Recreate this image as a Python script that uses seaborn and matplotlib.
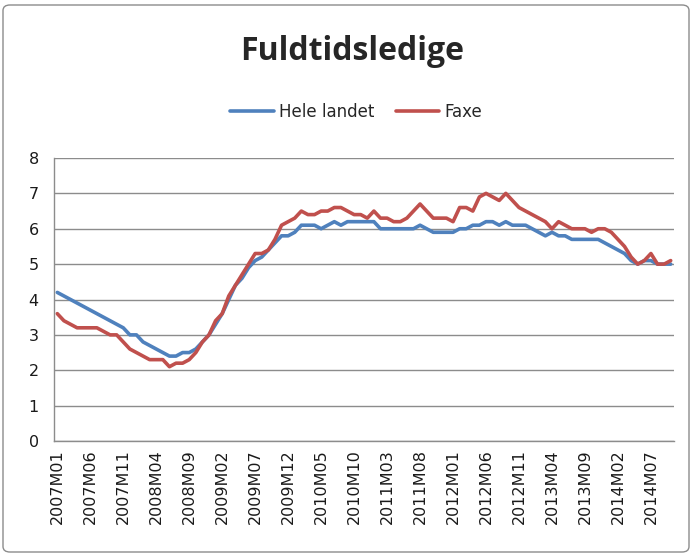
import numpy as np
import pandas as pd
import matplotlib
matplotlib.use("Agg")
import matplotlib.pyplot as plt
import seaborn as sns
from matplotlib.patches import FancyBboxPatch
from matplotlib.lines import Line2D

# ---- data ----
years = list(range(2007, 2015))
months = [f"{y}M{m:02d}" for y in years for m in range(1, 13)][:94]  # 2007M01 .. 2014M10

hele_landet = [4.2, 4.1, 4.0, 3.9, 3.8, 3.7, 3.6, 3.5, 3.4, 3.3,
               3.2, 3.0, 3.0, 2.8, 2.7, 2.6, 2.5, 2.4, 2.4, 2.5,
               2.5, 2.6, 2.8, 3.0, 3.3, 3.6, 4.0, 4.4, 4.6, 4.9,
               5.1, 5.2, 5.4, 5.6, 5.8, 5.8, 5.9, 6.1, 6.1, 6.1,
               6.0, 6.1, 6.2, 6.1, 6.2, 6.2, 6.2, 6.2, 6.2, 6.0,
               6.0, 6.0, 6.0, 6.0, 6.0, 6.1, 6.0, 5.9, 5.9, 5.9,
               5.9, 6.0, 6.0, 6.1, 6.1, 6.2, 6.2, 6.1, 6.2, 6.1,
               6.1, 6.1, 6.0, 5.9, 5.8, 5.9, 5.8, 5.8, 5.7, 5.7,
               5.7, 5.7, 5.7, 5.6, 5.5, 5.4, 5.3, 5.1, 5.0, 5.1,
               5.1, 5.0, 5.0, 5.0]

faxe = [3.6, 3.4, 3.3, 3.2, 3.2, 3.2, 3.2, 3.1, 3.0, 3.0,
        2.8, 2.6, 2.5, 2.4, 2.3, 2.3, 2.3, 2.1, 2.2, 2.2,
        2.3, 2.5, 2.8, 3.0, 3.4, 3.6, 4.1, 4.4, 4.7, 5.0,
        5.3, 5.3, 5.4, 5.7, 6.1, 6.2, 6.3, 6.5, 6.4, 6.4,
        6.5, 6.5, 6.6, 6.6, 6.5, 6.4, 6.4, 6.3, 6.5, 6.3,
        6.3, 6.2, 6.2, 6.3, 6.5, 6.7, 6.5, 6.3, 6.3, 6.3,
        6.2, 6.6, 6.6, 6.5, 6.9, 7.0, 6.9, 6.8, 7.0, 6.8,
        6.6, 6.5, 6.4, 6.3, 6.2, 6.0, 6.2, 6.1, 6.0, 6.0,
        6.0, 5.9, 6.0, 6.0, 5.9, 5.7, 5.5, 5.2, 5.0, 5.1,
        5.3, 5.0, 5.0, 5.1]

series_names = ["Hele landet", "Faxe"]
colors = ["#4F81BD", "#C0504D"]
title = "Fuldtidsledige"
y_ticks = list(range(0, 9))

# ---- long table ----
df = pd.DataFrame({
    "idx": list(range(len(months))) * 2,
    "month": months * 2,
    "value": hele_landet + faxe,
    "series": [series_names[0]] * len(months) + [series_names[1]] * len(months),
})

sns.set_style("white")
plt.rcParams["font.family"] = ["DejaVu Sans"]

fig = plt.figure(figsize=(6.94, 5.55), dpi=100)
ax = fig.add_axes([54 / 694, 1 - 441 / 555, (674 - 54) / 694, (441 - 158) / 555])

sns.lineplot(data=df, x="idx", y="value", hue="series", hue_order=series_names,
             palette=colors, linewidth=2.6, ax=ax, legend=False)

grid_c = "#8C8C8C"
txt_c = "#1A1A1A"
ax.set_xlim(-0.5, len(months) - 0.5)
ax.set_ylim(0, 8)
ax.set_yticks(y_ticks)
ax.set_yticklabels([str(t) for t in y_ticks], fontsize=11.5, color=txt_c)
ax.yaxis.grid(True, color=grid_c, linewidth=1.0)
ax.set_axisbelow(True)

label_pos = list(range(0, len(months), 5))
ax.set_xticks(label_pos)
ax.set_xticklabels([months[i] for i in label_pos], rotation=90, fontsize=11.5, color=txt_c)
ax.set_xticks(np.arange(-0.5, len(months), 1.0), minor=True)
ax.tick_params(axis="x", which="major", length=0, pad=6)
ax.tick_params(axis="x", which="minor", length=4, color=grid_c, width=1.0, direction="out")
ax.tick_params(axis="y", which="major", length=4, color=grid_c, width=1.0, direction="out", pad=7)
ax.set_xlabel("")
ax.set_ylabel("")

for s in ["top", "right"]:
    ax.spines[s].set_visible(False)
for s in ["left", "bottom"]:
    ax.spines[s].set_color(grid_c)
    ax.spines[s].set_linewidth(1.0)

# title
fig.text(352 / 694, 1 - 52 / 555, title, ha="center", va="center",
         fontsize=23, fontweight="bold", family=["Open Sans", "DejaVu Sans"])

# legend
handles = [Line2D([0], [0], color=c, linewidth=2.6) for c in colors]
fig.legend(handles, series_names, loc="center", bbox_to_anchor=(356 / 694, 1 - 112 / 555),
           ncol=2, frameon=False, fontsize=12, handlelength=2.6, handletextpad=0.3,
           columnspacing=1.3)

# chart border
border = FancyBboxPatch((3 / 694, 3 / 555), 1 - 8 / 694, 1 - 8 / 555,
                        boxstyle="round,pad=0,rounding_size=0.01",
                        transform=fig.transFigure, fill=False,
                        edgecolor="#8C8C8C", linewidth=1.0)
fig.patches.append(border)

fig.savefig("out.png", dpi=100)
